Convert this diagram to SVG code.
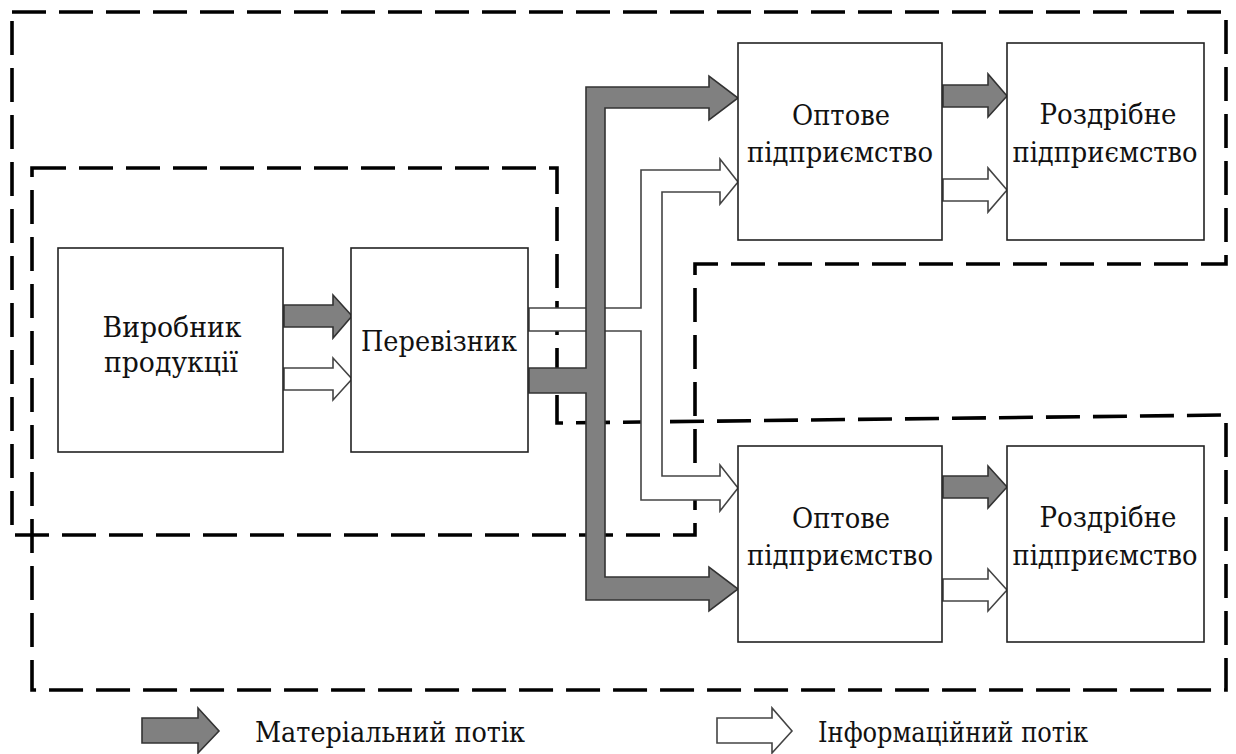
<svg xmlns="http://www.w3.org/2000/svg" width="1236" height="754" viewBox="0 0 1236 754">
<style>
.region{fill:none;stroke:#000;stroke-width:3.6;stroke-dasharray:34 13}
.box{fill:#fff;stroke:#222;stroke-width:1.6}
.mat{fill:#808080;stroke:#333;stroke-width:1.6;stroke-linejoin:miter}
.inf{fill:#fff;stroke:#444;stroke-width:1.6;stroke-linejoin:miter}
.t{font-size:28px;fill:#111;text-anchor:middle}
.l{font-size:28px;fill:#111}
</style>
<rect width="1236" height="754" fill="#fff"/>
<g id="regions">
<path class="region" d="M12,12 H1226 V264 H695 V535 H12 Z"/>
<path class="region" d="M32,168 H557 V423 L1226,415 V690 H32 Z"/>
</g>
<g id="connectors">
<path class="inf" d="M529,308 H641 V170 H720 V159 L738,182 L720,204 V192 H662 V476 H720 V465 L738,488 L720,511 V500 H641 V331 H529 Z"/>
<path class="mat" d="M529,368 H586 V87 H709 V76 L738,98 L709,120 V108 H605 V577 H709 V567 L738,589 L709,611 V600 H586 V393 H529 Z"/>
<path class="mat" d="M284,305 H333 V295 L352,316 L333,338 V327 H284 Z"/>
<path class="inf" d="M284,368 H333 V358 L352,379 L333,400 V390 H284 Z"/>
<path class="mat" d="M943,85 H988 V74 L1007,96 L988,117 V107 H943 Z"/>
<path class="inf" d="M943,179 H988 V168 L1007,190 L988,212 V201 H943 Z"/>
<path class="mat" d="M943,476 H988 V466 L1007,487 L988,508 V498 H943 Z"/>
<path class="inf" d="M943,579 H988 V569 L1007,590 L988,611 V601 H943 Z"/>
</g>
<g font-family="'DejaVu Serif', 'Liberation Serif', serif">
<g id="node-vyrobnyk">
<rect class="box" x="58" y="248" width="225" height="204"/>
<text class="t" x="172" y="337" textLength="139" lengthAdjust="spacingAndGlyphs">Виробник</text>
<text class="t" x="171" y="372" textLength="134" lengthAdjust="spacingAndGlyphs">продукції</text>
</g>
<g id="node-perevisnyk">
<rect class="box" x="351" y="248" width="177" height="204"/>
<text class="t" x="439" y="351" textLength="156" lengthAdjust="spacingAndGlyphs">Перевізник</text>
</g>
<g id="node-opt-top">
<rect class="box" x="738" y="43" width="204" height="197"/>
<text class="t" x="841" y="125" textLength="98" lengthAdjust="spacingAndGlyphs">Оптове</text>
<text class="t" x="840" y="162" textLength="186" lengthAdjust="spacingAndGlyphs">підприємство</text>
</g>
<g id="node-rozdr-top">
<rect class="box" x="1007" y="43" width="197" height="197"/>
<text class="t" x="1108" y="124" textLength="137" lengthAdjust="spacingAndGlyphs">Роздрібне</text>
<text class="t" x="1105" y="162" textLength="185" lengthAdjust="spacingAndGlyphs">підприємство</text>
</g>
<g id="node-opt-bottom">
<rect class="box" x="738" y="446" width="204" height="196"/>
<text class="t" x="841" y="528" textLength="98" lengthAdjust="spacingAndGlyphs">Оптове</text>
<text class="t" x="840" y="565" textLength="186" lengthAdjust="spacingAndGlyphs">підприємство</text>
</g>
<g id="node-rozdr-bottom">
<rect class="box" x="1007" y="446" width="197" height="196"/>
<text class="t" x="1108" y="527" textLength="137" lengthAdjust="spacingAndGlyphs">Роздрібне</text>
<text class="t" x="1105" y="565" textLength="185" lengthAdjust="spacingAndGlyphs">підприємство</text>
</g>
<g id="legend">
<path class="mat" d="M142,718 H198 V708 L219,731 L198,753 V743 H142 Z"/>
<text class="l" x="255" y="742" textLength="270" lengthAdjust="spacingAndGlyphs">Матеріальний потік</text>
<path class="inf" d="M717,718 H772 V708 L792,731 L772,753 V743 H717 Z"/>
<text class="l" x="818" y="742" textLength="270" lengthAdjust="spacingAndGlyphs">Інформаційний потік</text>
</g>
</g>
</svg>
